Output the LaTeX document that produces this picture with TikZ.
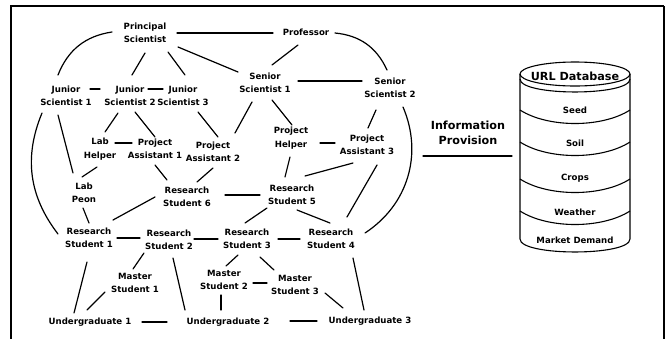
\documentclass[tikz,border=0pt]{standalone}
\usepackage{fontspec}
\setmainfont{DejaVu Sans}
\begin{document}
\begin{tikzpicture}[x=1pt,y=-1pt,
  lbl/.style={align=center, inner sep=0pt, font=\fontsize{8.6}{13.5}\selectfont\bfseries},
  big/.style={align=center, inner sep=0pt, font=\fontsize{11.2}{15}\selectfont\bfseries},
  link/.style={line width=1.2pt, line cap=round},
  frameline/.style={line width=2pt},
  dbline/.style={line width=1.1pt}]
\useasboundingbox (0,0) rectangle (670,338);
\fill[white] (0,0) rectangle (670,338);
% frame
\draw[frameline] (11,345) -- (11,6) -- (664,6);
\draw[line width=1.3pt] (664,6) -- (664,345);

% nodes
\node[lbl] (ps)   at (145,33)  {Principal\\Scientist};
\node[lbl] (prof) at (306,32)  {Professor};
\node[lbl] (js1)  at (66,96)   {Junior\\Scientist 1};
\node[lbl] (js2)  at (130,96)  {Junior\\Scientist 2};
\node[lbl] (js3)  at (183,96)  {Junior\\Scientist 3};
\node[lbl] (ss1)  at (265,83)  {Senior\\Scientist 1};
\node[lbl] (ss2)  at (390,88)  {Senior\\Scientist 2};
\node[lbl] (lh)   at (100,149) {Lab\\Helper};
\node[lbl] (pa1)  at (155,149) {Project\\Assistant 1};
\node[lbl] (pa2)  at (213,152) {Project\\Assistant 2};
\node[lbl] (ph)   at (291,138) {Project\\Helper};
\node[lbl] (pa3)  at (367,145) {Project\\Assistant 3};
\node[lbl] (lp)   at (84,193)  {Lab\\Peon};
\node[lbl] (rs6)  at (187,197) {Research\\Student 6};
\node[lbl] (rs5)  at (292,195) {Research\\Student 5};
\node[lbl] (rs1)  at (89,238)  {Research\\Student 1};
\node[lbl] (rs2)  at (169,240) {Research\\Student 2};
\node[lbl] (rs3)  at (247,239) {Research\\Student 3};
\node[lbl] (rs4)  at (331,239) {Research\\Student 4};
\node[lbl] (ms1)  at (135,283) {Master\\Student 1};
\node[lbl] (ms2)  at (224,280) {Master\\Student 2};
\node[lbl] (ms3)  at (295,285) {Master\\Student 3};
\node[lbl] (ug1)  at (90,322)  {Undergraduate 1};
\node[lbl] (ug2)  at (228,322) {Undergraduate 2};
\node[lbl] (ug3)  at (370,321) {Undergraduate 3};
\node[big] (info) at (468,133) {Information\\Provision};

% connectors
\draw[link] ([shift={(32,0)}]ps.center) -- ([shift={(-33,1)}]prof.center);
\draw[link] ([shift={(-33,-1)}]ps.center) to[bend right=30] ([shift={(-8,-21)}]js1.center);
\draw[link] ([shift={(0,20)}]ps.center) -- ([shift={(2,-21)}]js2.center);
\draw[link] ([shift={(23,19)}]ps.center) -- ([shift={(2,-21)}]js3.center);
\draw[link] ([shift={(33,14)}]ps.center) -- ([shift={(-27,-11)}]ss1.center);
\draw[link] ([shift={(-8,13)}]prof.center) -- ([shift={(7,-18)}]ss1.center);
\draw[link] ([shift={(29,1)}]prof.center) to[bend left=30] ([shift={(-3,-18)}]ss2.center);
\draw[link] ([shift={(33,-2)}]ss1.center) -- ([shift={(-28,-7)}]ss2.center);
\draw[link] ([shift={(24,-7)}]js1.center) -- ([shift={(-30,-7)}]js2.center);
\draw[link] ([shift={(18,-7)}]js2.center) -- ([shift={(-20,-7)}]js3.center);
\draw[link] ([shift={(-12,17)}]js2.center) -- ([shift={(5,-17)}]lh.center);
\draw[link] ([shift={(5,16)}]js2.center) -- ([shift={(0,-12)}]pa1.center);
\draw[link] ([shift={(15,16)}]js3.center) -- ([shift={(5,-15)}]pa2.center);
\draw[link] ([shift={(15,-6)}]lh.center) -- ([shift={(-23,-6)}]pa1.center);
\draw[link] ([shift={(-8,19)}]js1.center) -- ([shift={(-11,-20)}]lp.center);
\draw[link] ([shift={(-24,17)}]js1.center) to[bend right=30] ([shift={(-31,-4)}]rs1.center);
\draw[link] ([shift={(-3,18)}]lh.center) -- ([shift={(-2,-16)}]lp.center);
\draw[link] ([shift={(0,16)}]pa1.center) -- ([shift={(-20,-17)}]rs6.center);
\draw[link] ([shift={(0,16)}]pa2.center) -- ([shift={(10,-15)}]rs6.center);
\draw[link] ([shift={(-13,19)}]ss1.center) -- ([shift={(22,-19)}]pa2.center);
\draw[link] ([shift={(7,17)}]ss1.center) -- ([shift={(1,-13)}]ph.center);
\draw[link] ([shift={(29,5)}]ph.center) -- ([shift={(-32,-2)}]pa3.center);
\draw[link] ([shift={(-14,22)}]ss2.center) -- ([shift={(1,-17)}]pa3.center);
\draw[link] ([shift={(13,19)}]ss2.center) to[bend left=40] ([shift={(34,-6)}]rs4.center);
\draw[link] ([shift={(-1,19)}]ph.center) -- ([shift={(-7,-18)}]rs5.center);
\draw[link] ([shift={(-14,18)}]pa3.center) -- ([shift={(13,-19)}]rs5.center);
\draw[link] ([shift={(10,20)}]pa3.center) -- ([shift={(16,-22)}]rs4.center);
\draw[link] ([shift={(38,-2)}]rs6.center) -- ([shift={(-32,0)}]rs5.center);
\draw[link] ([shift={(-32,0)}]rs6.center) -- ([shift={(24,-18)}]rs1.center);
\draw[link] ([shift={(-1,15)}]lp.center) -- ([shift={(0,-15)}]rs1.center);
\draw[link] ([shift={(28,0)}]rs1.center) -- ([shift={(-29,-2)}]rs2.center);
\draw[link] ([shift={(25,-1)}]rs2.center) -- ([shift={(-29,0)}]rs3.center);
\draw[link] ([shift={(31,0)}]rs3.center) -- ([shift={(-31,0)}]rs4.center);
\draw[link] ([shift={(-25,13)}]rs5.center) -- ([shift={(-2,-16)}]rs3.center);
\draw[link] ([shift={(5,15)}]rs5.center) -- ([shift={(-1,-16)}]rs4.center);
\draw[link] ([shift={(-2,24)}]rs1.center) -- ([shift={(-16,-9)}]ug1.center);
\draw[link] ([shift={(-25,13)}]rs2.center) -- ([shift={(-2,-14)}]ms1.center);
\draw[link] ([shift={(-30,9)}]ms1.center) -- ([shift={(-3,-12)}]ug1.center);
\draw[link] ([shift={(4,18)}]rs2.center) -- ([shift={(-43,-12)}]ug2.center);
\draw[link] ([shift={(52,0)}]ug1.center) -- ([shift={(-61,0)}]ug2.center);
\draw[link] ([shift={(-9,16)}]rs3.center) -- ([shift={(2,-14)}]ms2.center);
\draw[link] ([shift={(13,18)}]rs3.center) -- ([shift={(-21,-15)}]ms3.center);
\draw[link] ([shift={(29,3)}]ms2.center) -- ([shift={(-28,-2)}]ms3.center);
\draw[link] ([shift={(-3,15)}]ms2.center) -- ([shift={(-7,-12)}]ug2.center);
\draw[link] ([shift={(30,8)}]ms3.center) -- ([shift={(-27,-13)}]ug3.center);
\draw[link] ([shift={(22,19)}]rs4.center) -- ([shift={(-6,-11)}]ug3.center);
\draw[link] ([shift={(62,-1)}]ug2.center) -- ([shift={(-53,0)}]ug3.center);
\draw[link] ([shift={(-45,23)}]info.center) -- ([shift={(44,23)}]info.center);

% database cylinder
\draw[dbline] (520,74) -- (520,239) .. controls (520,256.3) and (630,256.3) .. (630,239) -- (630,74);
\draw[dbline] (575,74) ellipse [x radius=55, y radius=12];
\draw[dbline] (520,79) .. controls (520,96.3) and (630,96.3) .. (630,79);
\draw[dbline] (520,110) .. controls (548,128) and (602,128) .. (630,110);
\draw[dbline] (520,142) .. controls (548,160) and (602,160) .. (630,142);
\draw[dbline] (520,179) .. controls (548,197) and (602,197) .. (630,179);
\draw[dbline] (520,211) .. controls (548,229) and (602,229) .. (630,211);
\node[big] (url) at (575,76) {URL Database};
\node[lbl] (seed) at (575,110) {Seed};
\node[lbl] (soil) at (575,143) {Soil};
\node[lbl] (crops) at (575,178) {Crops};
\node[lbl] (weather) at (575,212) {Weather};
\node[lbl] (market) at (575,240) {Market Demand};
\end{tikzpicture}
\end{document}
